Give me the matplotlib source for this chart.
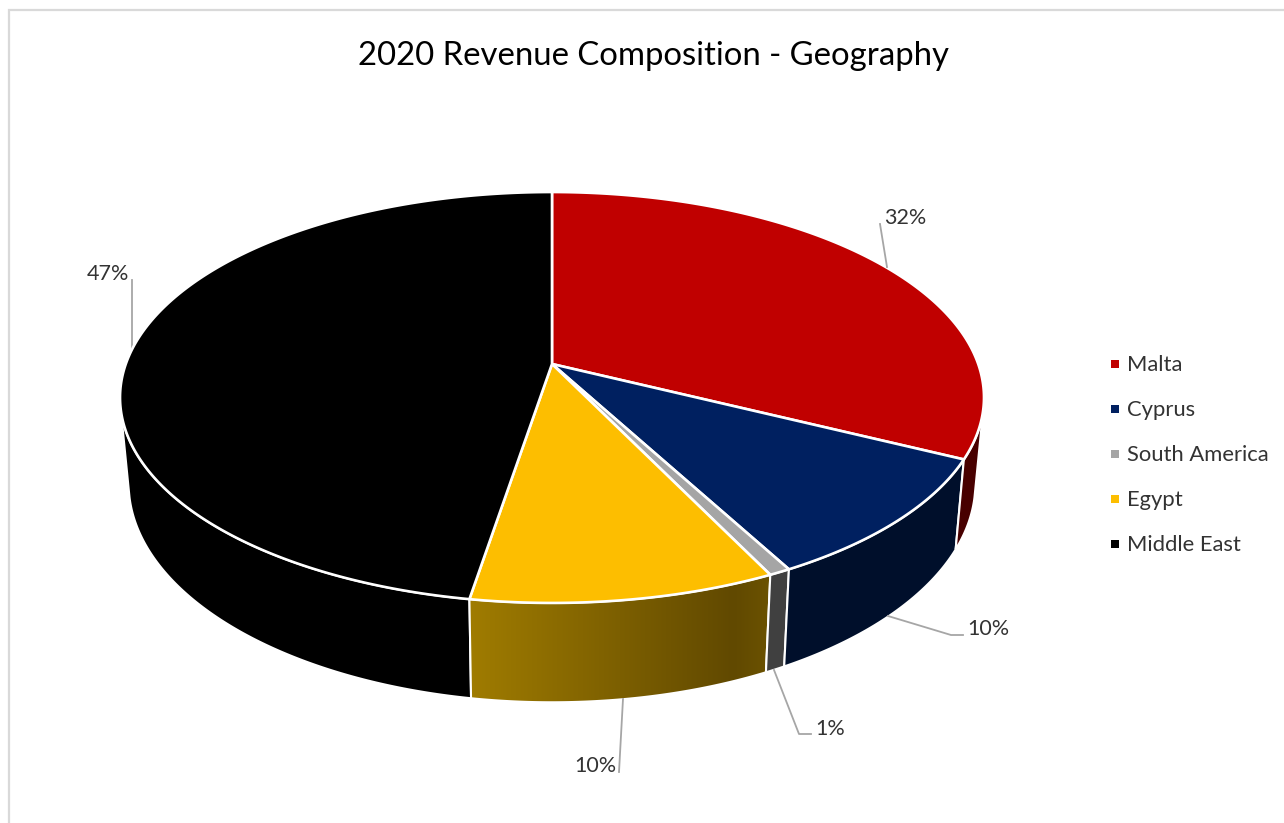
import numpy as np
import matplotlib
matplotlib.use("Agg")
import matplotlib.pyplot as plt
from matplotlib.colors import LinearSegmentedColormap
from matplotlib.patches import Polygon, Rectangle

# the values behind the rounded labels
categorias = ["Malta", "Cyprus", "South America", "Egypt", "Middle East"]
valores = [32.3, 9.8, 0.7, 9.8, 47.4]
etiquetas = ["32%", "10%", "1%", "10%", "47%"]

colores = ["#C00000", "#002060", "#A5A5A5", "#FDBE00", "#000000"]
colores_lado = ["#480000", "#000F2B", "#404040", "#A07C00", "#000000"]

plt.rcParams["font.family"] = ["Lato", "DejaVu Sans"]

# perspective of the top face
CX, CY = 552, 364
A, B, K = 426.2, 200, 0.163
# bottom face, relative to the top one
SX, SY, Y_BASE = 0.98, 1.065, 447.8
GIRO_VISIBLE = 103  # side walls start/end where they leave the silhouette


def proyectar(theta):
    t = np.radians(theta)
    u, v = np.sin(t), np.cos(t)
    w = 1 + K * v
    return CX + A * u / w, CY - B * v / w


def proyectar_base(theta):
    x, y = proyectar(theta)
    return CX + SX * (x - CX), Y_BASE + SY * (y - CY)


def arco(func, a, b):
    n = max(int(abs(b - a) * 2), 2)
    x, y = func(np.linspace(a, b, n))
    return np.column_stack([x, y])


fig = plt.figure(figsize=(12.84, 8.23), dpi=100)
ax = fig.add_axes([0, 0, 1, 1])

cortes = np.concatenate([[0], np.cumsum(valores)]) * 360 / sum(valores)

# side walls first, the top face goes over them
for i in range(len(valores) - 1, -1, -1):
    a = max(cortes[i], GIRO_VISIBLE)
    b = min(cortes[i + 1], 360 - GIRO_VISIBLE)
    if a >= b:
        continue
    pts = np.vstack([arco(proyectar, a, b), arco(proyectar_base, b, a)])
    if categorias[i] == "Egypt":
        pared = Polygon(pts, closed=True, facecolor="none", edgecolor="none")
        ax.add_patch(pared)
        degradado = LinearSegmentedColormap.from_list(
            "lado", [(0, "#A07C00"), (0.88, "#614900"), (1, "#6B5200")])
        img = ax.imshow(np.linspace(0, 1, 256).reshape(1, -1), cmap=degradado,
                        extent=[pts[:, 0].min(), pts[:, 0].max(), pts[:, 1].max(), pts[:, 1].min()],
                        aspect="auto", zorder=1)
        img.set_clip_path(pared)
        ax.add_patch(Polygon(pts, closed=True, facecolor="none", edgecolor="white", lw=1.5, zorder=2))
    else:
        ax.add_patch(Polygon(pts, closed=True, facecolor=colores_lado[i], edgecolor="white",
                             lw=1.5, zorder=2 if colores[i] != "#000000" else 1))

for i in range(len(valores)):
    pts = np.vstack([[CX, CY], arco(proyectar, cortes[i], cortes[i + 1])])
    ax.add_patch(Polygon(pts, closed=True, facecolor=colores[i], edgecolor="white",
                         lw=1.9, joinstyle="round", zorder=3))

# leader lines and data labels
gris = "#A6A6A6"
ax.plot([880, 887], [224, 267], color=gris, lw=1.3, zorder=4)
ax.plot([888, 951, 963], [616, 635, 635], color=gris, lw=1.3, zorder=4)
ax.plot([774, 799, 811], [670, 734, 734], color=gris, lw=1.3, zorder=4)
ax.plot([623, 619], [699, 772], color=gris, lw=1.3, zorder=4)
ax.plot([132, 132], [280, 350], color=gris, lw=1.3, zorder=1)

texto = "#333333"
ax.text(884, 218, etiquetas[0], fontsize=15.5, color=texto, va="center", ha="left")
ax.text(967, 629, etiquetas[1], fontsize=15.5, color=texto, va="center", ha="left")
ax.text(815, 729, etiquetas[2], fontsize=15.5, color=texto, va="center", ha="left")
ax.text(574, 766, etiquetas[3], fontsize=15.5, color=texto, va="center", ha="left")
ax.text(87, 274, etiquetas[4], fontsize=15.5, color=texto, va="center", ha="left")

# legend
for i, nombre in enumerate(categorias):
    y = 364 + 45 * i
    ax.add_patch(Rectangle((1111, y - 4), 8, 8, facecolor=colores[i], edgecolor="none"))
    ax.text(1127, y + 1, nombre, fontsize=15.8, color=texto, va="center", ha="left")

ax.text(653, 56, "2020 Revenue Composition - Geography", fontsize=23.7, color="black",
        va="center", ha="center")

# chart frame, cut by the screenshot on the right and at the bottom
ax.plot([9, 9, 1284], [823, 10, 10], color="#D9D9D9", lw=1.6, solid_joinstyle="miter")

ax.set_xlim(0, 1284)
ax.set_ylim(823, 0)
ax.axis("off")
fig.savefig("out.png", dpi=100, facecolor="white")
